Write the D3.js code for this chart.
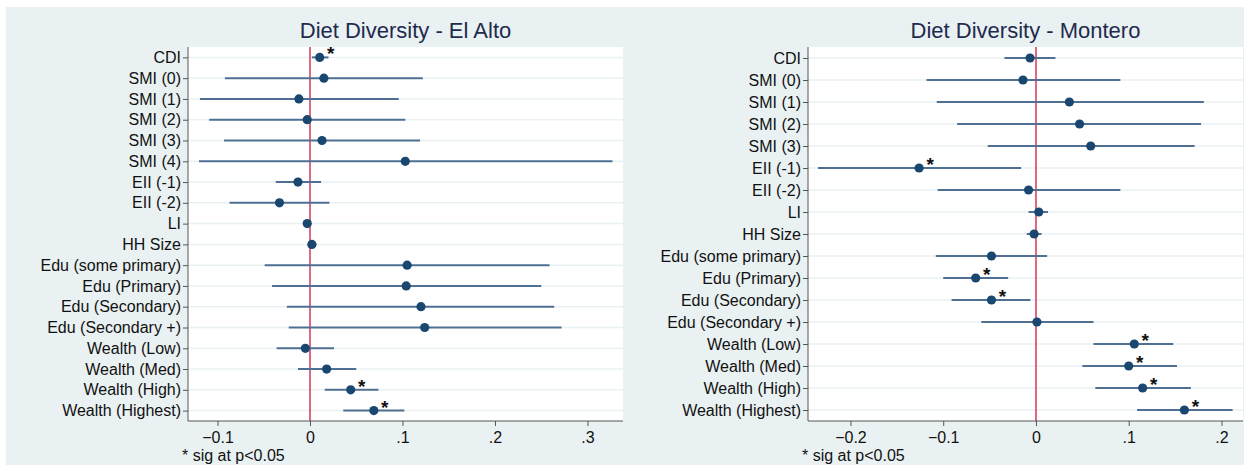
<!DOCTYPE html>
<html>
<head>
<meta charset="utf-8">
<script src="https://cdn.jsdelivr.net/npm/d3@7"></script>
<style>
  html, body { margin: 0; padding: 0; background: #ffffff; }
  svg { display: block; }
  text { font-family: "Liberation Sans", Arial, Helvetica, sans-serif; }
</style>
</head>
<body>
<svg id="chart" width="1244" height="465"></svg>
<script>
// ---- Data: El Alto ----
const altoLabels = ["CDI","SMI (0)","SMI (1)","SMI (2)","SMI (3)","SMI (4)","EII (-1)","EII (-2)","LI","HH Size",
  "Edu (some primary)","Edu (Primary)","Edu (Secondary)","Edu (Secondary +)","Wealth (Low)","Wealth (Med)","Wealth (High)","Wealth (Highest)"];
const altoCoef = [0.0105, 0.015, -0.012, -0.003, 0.013, 0.103, -0.013, -0.033, -0.003, 0.002,
  0.105, 0.104, 0.120, 0.124, -0.005, 0.018, 0.044, 0.069];
const altoLow  = [0.002, -0.092, -0.119, -0.109, -0.093, -0.120, -0.037, -0.087, -0.005, -0.001,
  -0.049, -0.041, -0.025, -0.023, -0.036, -0.013, 0.016, 0.036];
const altoHigh = [0.020, 0.122, 0.096, 0.103, 0.119, 0.327, 0.012, 0.021, 0.000, 0.007,
  0.259, 0.250, 0.264, 0.272, 0.026, 0.050, 0.074, 0.102];
const altoSig  = [1,0,0,0,0,0,0,0,0,0,0,0,0,0,0,0,1,1];
const altoTicks = [-0.1, 0, 0.1, 0.2, 0.3];
const altoDomain = [-0.1319, 0.3384];

// ---- Data: Montero ----
const monteroLabels = ["CDI","SMI (0)","SMI (1)","SMI (2)","SMI (3)","EII (-1)","EII (-2)","LI","HH Size",
  "Edu (some primary)","Edu (Primary)","Edu (Secondary)","Edu (Secondary +)","Wealth (Low)","Wealth (Med)","Wealth (High)","Wealth (Highest)"];
const monteroCoef = [-0.0064, -0.014, 0.036, 0.047, 0.059, -0.126, -0.008, 0.003, -0.002,
  -0.048, -0.065, -0.048, 0.001, 0.106, 0.100, 0.115, 0.160];
const monteroLow  = [-0.034, -0.118, -0.107, -0.085, -0.052, -0.235, -0.106, -0.008, -0.010,
  -0.108, -0.100, -0.091, -0.059, 0.062, 0.050, 0.064, 0.109];
const monteroHigh = [0.021, 0.091, 0.181, 0.178, 0.171, -0.016, 0.091, 0.013, 0.006,
  0.012, -0.030, -0.006, 0.062, 0.148, 0.152, 0.167, 0.212];
const monteroSig  = [0,0,0,0,0,1,0,0,0,0,1,1,0,1,1,1,1];
const monteroTicks = [-0.2, -0.1, 0, 0.1, 0.2];
const monteroDomain = [-0.2458, 0.2232];

const svg = d3.select("#chart");
const BG = "#eaf1f3";
const NAVY = "#1a476f";
const CI = "#4f6f93";
const ZERO = "#d23a55";

// panel background
svg.append("rect").attr("x", 6).attr("y", 7).attr("width", 1238).attr("height", 458).attr("fill", BG);

const fmt = v => {
  if (Math.abs(v) < 1e-9) return "0";
  const s = d3.format(".1f")(v);
  return s.replace(/^(-?)0\./, "$1.");
};

function panel(opts) {
  const { title, labels, coef, low, high, sig, ticks, domain, left, right } = opts;
  const top = 47, bottom = 421;
  const g = svg.append("g");
  g.append("rect").attr("x", left).attr("y", top).attr("width", right - left).attr("height", bottom - top).attr("fill", "#ffffff");

  const x = d3.scaleLinear().domain(domain).range([left, right]);
  const y = d3.scalePoint().domain(labels).range([top, bottom]).padding(0.5);

  // gridlines
  g.selectAll("line.grid").data(labels).join("line")
    .attr("x1", left).attr("x2", right)
    .attr("y1", d => y(d)).attr("y2", d => y(d))
    .attr("stroke", BG).attr("stroke-width", 1.5);

  // zero line
  g.append("line").attr("x1", x(0)).attr("x2", x(0)).attr("y1", top).attr("y2", bottom)
    .attr("stroke", ZERO).attr("stroke-width", 1.5);

  // CI lines
  g.selectAll("line.ci").data(labels).join("line")
    .attr("x1", (d, i) => x(low[i])).attr("x2", (d, i) => x(high[i]))
    .attr("y1", d => y(d)).attr("y2", d => y(d))
    .attr("stroke", CI).attr("stroke-width", 2);

  // points
  g.selectAll("circle").data(labels).join("circle")
    .attr("cx", (d, i) => x(coef[i])).attr("cy", d => y(d)).attr("r", 4.6)
    .attr("fill", NAVY);

  // stars
  g.selectAll("text.star").data(labels.filter((d, i) => sig[i])).join("text")
    .attr("x", d => x(coef[labels.indexOf(d)]) + 11)
    .attr("y", d => y(d) + 3)
    .attr("text-anchor", "middle")
    .attr("font-size", 19).attr("font-weight", "bold").attr("fill", "#111")
    .text("*");

  // y axis
  const ya = g.append("g").attr("transform", `translate(${left},0)`)
    .call(d3.axisLeft(y).tickSize(5).tickPadding(2));
  ya.select(".domain").attr("stroke", "#555").attr("d", `M0,${top}V${bottom}`);
  ya.selectAll(".tick line").attr("stroke", "#555");
  ya.selectAll(".tick text").attr("font-size", 16).attr("fill", "#111")
    .attr("font-family", "'Liberation Sans', Arial, sans-serif");

  // x axis
  const xa = g.append("g").attr("transform", `translate(0,${bottom})`)
    .call(d3.axisBottom(x).tickValues(ticks).tickFormat(fmt).tickSize(5).tickPadding(6));
  xa.select(".domain").attr("stroke", "#555").attr("d", `M${left},0H${right}`);
  xa.selectAll(".tick line").attr("stroke", "#555");
  xa.selectAll(".tick text").attr("font-size", 16).attr("fill", "#111")
    .attr("font-family", "'Liberation Sans', Arial, sans-serif");

  // title
  g.append("text").attr("x", (left + right) / 2).attr("y", 38).attr("text-anchor", "middle")
    .attr("font-size", 22).attr("fill", "#1e2b4e").text(title);

  // note
  g.append("text").attr("x", left - 6).attr("y", 461).attr("font-size", 16).attr("fill", "#111")
    .text("* sig at p<0.05");
}

panel({ title: "Diet Diversity - El Alto", labels: altoLabels, coef: altoCoef, low: altoLow, high: altoHigh,
  sig: altoSig, ticks: altoTicks, domain: altoDomain, left: 188, right: 623 });
panel({ title: "Diet Diversity - Montero", labels: monteroLabels, coef: monteroCoef, low: monteroLow, high: monteroHigh,
  sig: monteroSig, ticks: monteroTicks, domain: monteroDomain, left: 808, right: 1243 });
</script>
</body>
</html>
